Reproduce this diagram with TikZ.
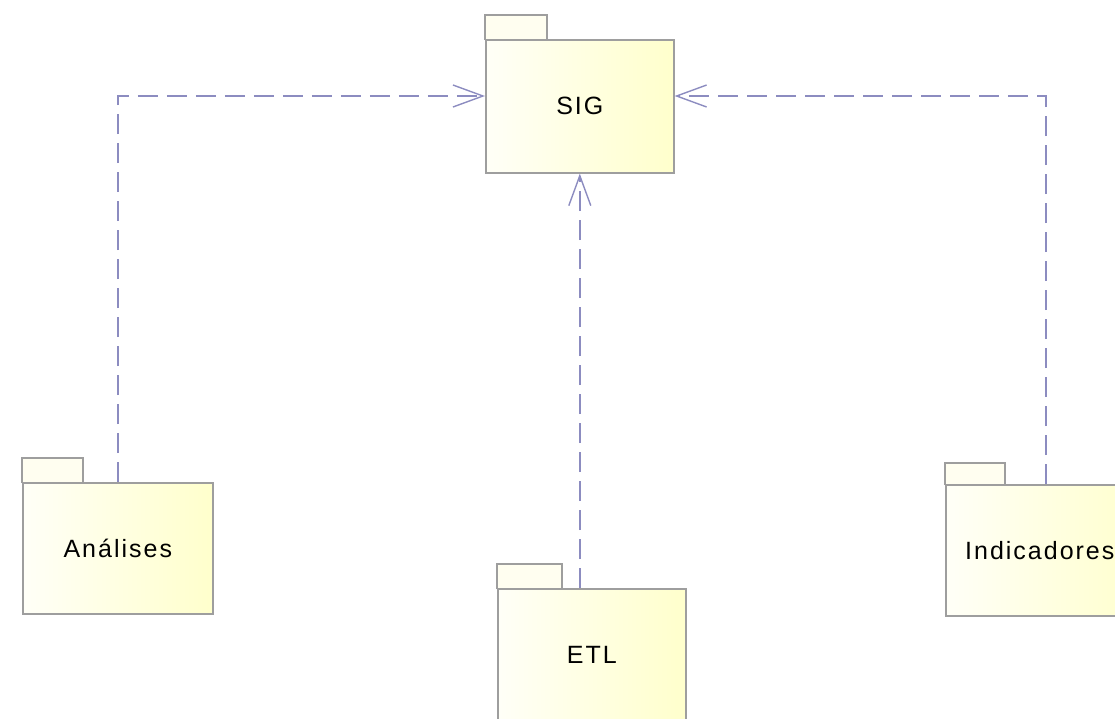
\documentclass[tikz,border=0pt]{standalone}
\usepackage{fontspec}
\setmainfont{Liberation Sans}[LetterSpace=8]
\usetikzlibrary{positioning,calc,arrows.meta}

\tikzset{
    pkg/.style={draw=black!38, line width=1.6pt, shading angle=135, left color=yellow!3, right color=yellow!20,
        minimum width=#1, minimum height=131pt, inner sep=0pt, anchor=north west,
        font=\fontsize{25}{30}\selectfont},
    pkgtab/.style={draw=black!38, line width=1.6pt, fill=yellow!6},
    dep/.style={draw=blue!45!black!45, line width=1.4pt, dash pattern=on 20pt off 9pt,
        -{Straight Barb[length=30pt,width=22pt]}}
}

\begin{document}
\begin{tikzpicture}[x=1pt,y=-1pt]
    \useasboundingbox (0,0) rectangle (1115,718);
    \begin{scope}
    \clip (0,0) rectangle (1115,718);

    % tabs of the packages
    \draw[pkgtab] (485,40) -- (485,15) -- (547,15) -- (547,40);
    \draw[pkgtab] (22,483) -- (22,458) -- (83,458) -- (83,483);
    \draw[pkgtab] (945,485) -- (945,463) -- (1005,463) -- (1005,485);
    \draw[pkgtab] (497,589) -- (497,564) -- (562,564) -- (562,589);

    % package bodies
    \node[pkg=188pt, minimum height=133pt] (sig) at (485,39) {SIG};
    \node[pkg=190pt] (ana) at (22,482) {Análises};
    \node[pkg=200pt] (ind) at (945,484) {\hspace*{-12pt}Indicadores};
    \node[pkg=188pt, minimum height=133pt] (etl) at (497,588) {\raisebox{-8pt}{ETL}};
    \end{scope}

    % dependencies
    \draw[dep] (ana.north) |- (sig.west |- 0,96);
    \draw[dep] (ind.north) |- (sig.east |- 0,96);
    \draw[dep] (sig.south |- etl.north) -- (sig.south);
\end{tikzpicture}
\end{document}
